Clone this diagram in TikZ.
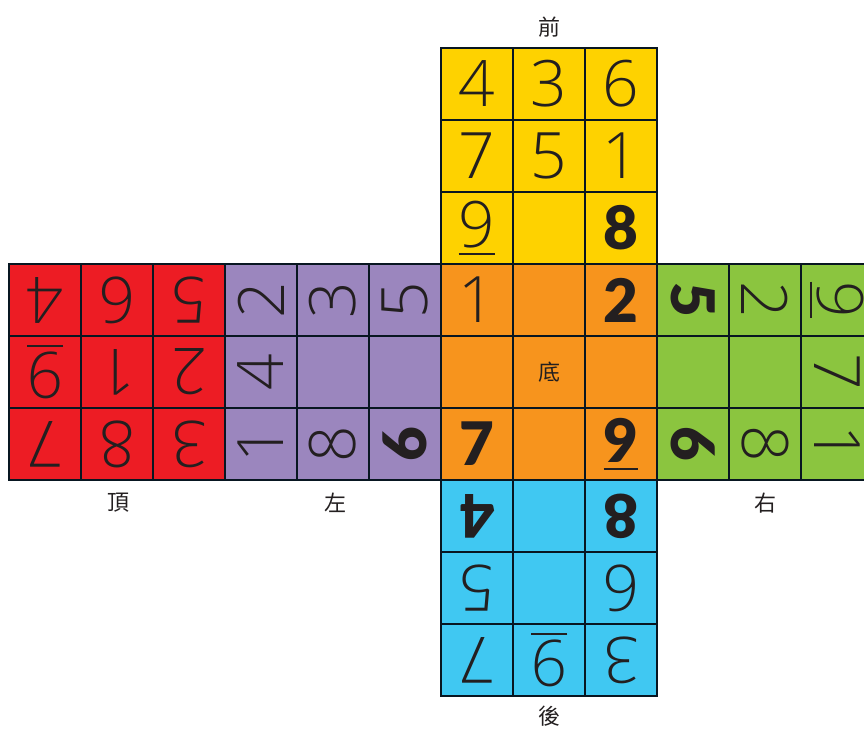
\documentclass[tikz,border=0pt]{standalone}
\usepackage{fontspec}
\setmainfont{TeX Gyre Heros}
\IfFontExistsTF{Open Sans Light}{\newfontfamily\thinf{Open Sans Light}}{%
  \IfFontExistsTF{Fira Sans Light}{\newfontfamily\thinf{Fira Sans Light}}{\newfontfamily\thinf{TeX Gyre Heros}}}
\IfFontExistsTF{Lato Black}{\newfontfamily\heavyf{Lato Black}}{%
  \IfFontExistsTF{Fira Sans Heavy}{\newfontfamily\heavyf{Fira Sans Heavy}}{\newfontfamily\heavyf{TeX Gyre Heros Bold}}}
\newfontfamily\cjk{Noto Sans CJK TC}
\definecolor{cyel}{RGB}{254,210,0}
\definecolor{cred}{RGB}{237,28,36}
\definecolor{cpur}{RGB}{155,134,190}
\definecolor{cora}{RGB}{247,148,29}
\definecolor{cgrn}{RGB}{139,197,63}
\definecolor{cblu}{RGB}{64,200,242}
\definecolor{cline}{RGB}{8,22,33}
\definecolor{cink}{RGB}{35,31,32}
\newcommand\ulnum[1]{\vtop{\hbox{#1}\kern5pt\hrule height 2pt}}
\newcommand\bnum[1]{{\heavyf\fontsize{60}{60}\selectfont #1}}
\begin{document}
\begin{tikzpicture}[x=1pt,y=-1pt,
  cellbox/.style={draw=cline, line width=2.6pt, minimum width=72pt, minimum height=72pt,
    inner sep=0pt, text=cink, font=\thinf\fontsize{64}{64}\selectfont},
  yelface/.style={cellbox, fill=cyel},
  redface/.style={cellbox, fill=cred, rotate=180},
  purface/.style={cellbox, fill=cpur, rotate=90},
  oraface/.style={cellbox, fill=cora},
  grnface/.style={cellbox, fill=cgrn, rotate=-90},
  bluface/.style={cellbox, fill=cblu, rotate=180},
  lab/.style={text=cink, font=\cjk\fontsize{22}{22}\selectfont, inner sep=0pt}]
\useasboundingbox (0,0) rectangle (864,731);
% front (yellow)
\node[yelface] (f11) at (477,84) {4};
\node[yelface] (f12) at (549,84) {3};
\node[yelface] (f13) at (621,84) {6};
\node[yelface] (f21) at (477,156) {7};
\node[yelface] (f22) at (549,156) {5};
\node[yelface] (f23) at (621,156) {1};
\node[yelface] (f31) at (477,228) {\ulnum{9}};
\node[yelface] (f32) at (549,228) {};
\node[yelface] (f33) at (621,228) {\bnum{8}};
% top (red)
\node[redface] (r11) at (45,300) {4};
\node[redface] (r12) at (117,300) {6};
\node[redface] (r13) at (189,300) {5};
\node[redface] (r21) at (45,372) {\ulnum{9}};
\node[redface] (r22) at (117,372) {1};
\node[redface] (r23) at (189,372) {2};
\node[redface] (r31) at (45,444) {7};
\node[redface] (r32) at (117,444) {8};
\node[redface] (r33) at (189,444) {3};
% left (purple)
\node[purface] (p11) at (261,300) {2};
\node[purface] (p12) at (333,300) {3};
\node[purface] (p13) at (405,300) {5};
\node[purface] (p21) at (261,372) {4};
\node[purface] (p22) at (333,372) {};
\node[purface] (p23) at (405,372) {};
\node[purface] (p31) at (261,444) {1};
\node[purface] (p32) at (333,444) {8};
\node[purface] (p33) at (405,444) {\bnum{6}};
% bottom (orange)
\node[oraface] (o11) at (477,300) {1};
\node[oraface] (o12) at (549,300) {};
\node[oraface] (o13) at (621,300) {\bnum{2}};
\node[oraface] (o21) at (477,372) {};
\node[oraface] (o22) at (549,372) {};
\node[oraface] (o23) at (621,372) {};
\node[oraface] (o31) at (477,444) {\bnum{7}};
\node[oraface] (o32) at (549,444) {};
\node[oraface] (o33) at (621,444) {\bnum{\ulnum{9}}};
% right (green)
\node[grnface] (g11) at (693,300) {\bnum{5}};
\node[grnface] (g12) at (765,300) {2};
\node[grnface] (g13) at (837,300) {\ulnum{9}};
\node[grnface] (g21) at (693,372) {};
\node[grnface] (g22) at (765,372) {};
\node[grnface] (g23) at (837,372) {7};
\node[grnface] (g31) at (693,444) {\bnum{6}};
\node[grnface] (g32) at (765,444) {8};
\node[grnface] (g33) at (837,444) {1};
% back (blue)
\node[bluface] (b11) at (477,516) {\bnum{4}};
\node[bluface] (b12) at (549,516) {};
\node[bluface] (b13) at (621,516) {\bnum{8}};
\node[bluface] (b21) at (477,588) {5};
\node[bluface] (b22) at (549,588) {};
\node[bluface] (b23) at (621,588) {6};
\node[bluface] (b31) at (477,660) {7};
\node[bluface] (b32) at (549,660) {\ulnum{9}};
\node[bluface] (b33) at (621,660) {3};
% labels
\node[lab] (lfront) at (549,27) {前};
\node[lab] (ltop) at (118,503) {頂};
\node[lab] (lleft) at (335,503) {左};
\node[lab] (lright) at (765,503) {右};
\node[lab] (lback) at (549,716) {後};
\node[lab] (lbottom) at (o22.center) {底};
\end{tikzpicture}
\end{document}
